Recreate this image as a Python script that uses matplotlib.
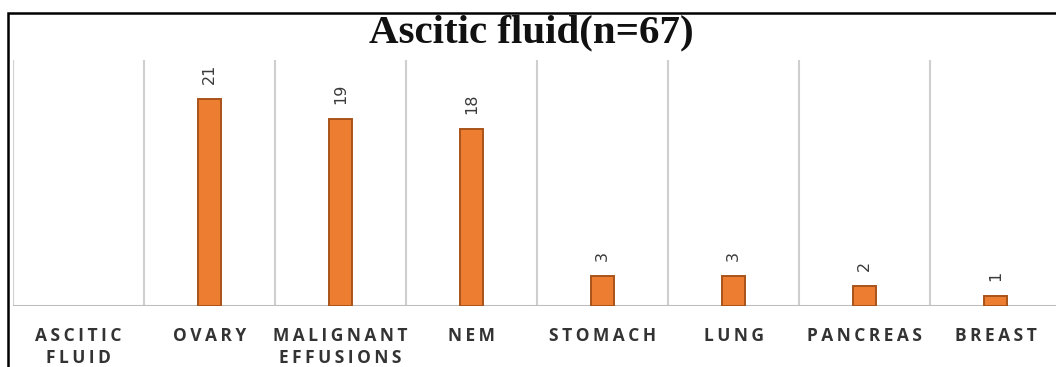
import matplotlib.pyplot as plt
from matplotlib.patches import Rectangle

categories = ["ASCITIC\nFLUID", "OVARY", "MALIGNANT\nEFFUSIONS", "NEM",
              "STOMACH", "LUNG", "PANCREAS", "BREAST"]
counts = [None, 21, 19, 18, 3, 3, 2, 1]
title = "Ascitic fluid(n=67)"

W, H = 1056, 367
fig = plt.figure(figsize=(W / 100, H / 100), dpi=100)

# plot area in pixel coordinates
left, right, top, bottom = 13, 1061, 60, 306
ax = fig.add_axes([left / W, 1 - bottom / H, (right - left) / W, (bottom - top) / H])

xs = list(range(len(categories)))
for x, v in zip(xs, counts):
    if v is None:
        continue
    ax.bar(x, v, width=0.17, color="#ED7D31", edgecolor="#A9531A", linewidth=1.4, zorder=3)
    ax.annotate(str(v), (x, v), xytext=(0, 11), textcoords="offset points",
                rotation=90, ha="center", va="bottom", fontsize=11.5,
                color="#3a3a3a", family="DejaVu Sans")

ax.set_xlim(-0.5, len(categories) - 0.5)
ax.set_ylim(0, 25)

# vertical separators between categories
for i in range(len(categories) + 1):
    ax.axvline(i - 0.5, color="#cfcfcf", linewidth=1.5, zorder=1)
ax.axhline(0, color="#bdbdbd", linewidth=1.5, zorder=2)

for s in ax.spines.values():
    s.set_visible(False)
ax.set_yticks([])
ax.set_xticks(xs)
spaced = ["\n".join("\u2009".join(w) for w in c.split("\n")) for c in categories]
ax.set_xticklabels(spaced, fontsize=12.5, color="#333333", family="Open Sans",
                   fontweight="bold", linespacing=1.3)
ax.tick_params(axis="x", length=0, pad=15)

fig.text(531 / W, 1 - 33 / H, title, ha="center", va="center",
         fontsize=29.5, fontweight="bold", family="Liberation Serif", color="#111111")

# outer frame (left and top edges visible)
fig.patches.append(Rectangle((8 / W, -0.1), 1.2, 1 - 13 / H + 0.1,
                             transform=fig.transFigure, fill=False,
                             edgecolor="black", linewidth=1.8))

fig.savefig("out.png", dpi=100)
